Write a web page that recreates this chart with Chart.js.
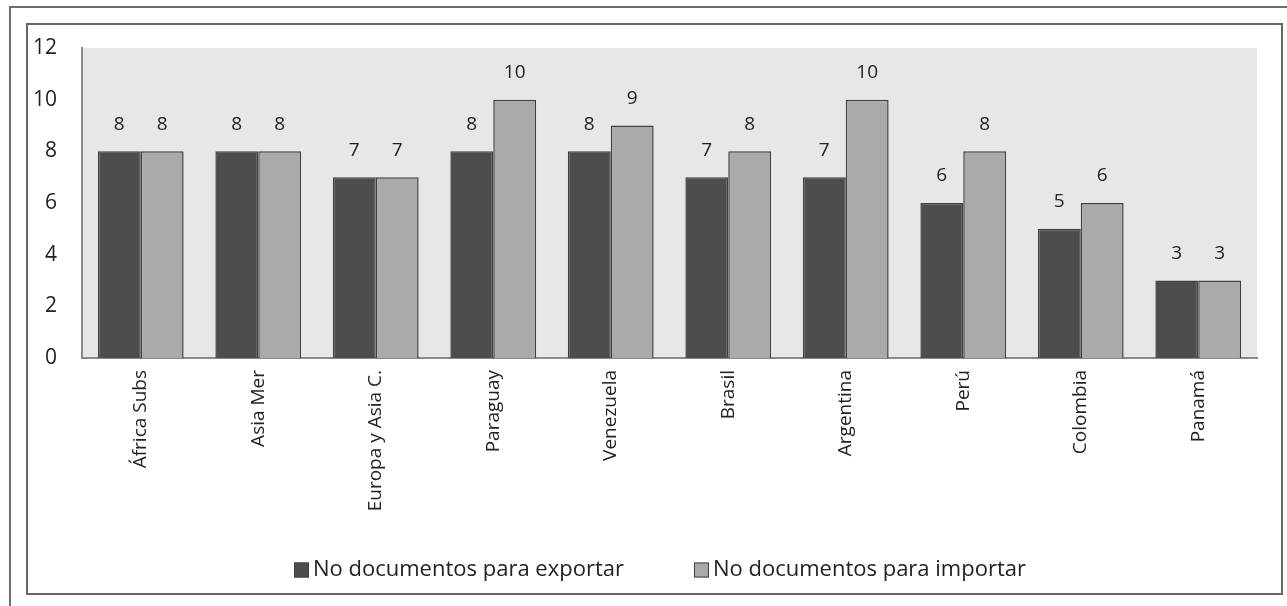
<!DOCTYPE html>
<html>
<head>
<meta charset="utf-8">
<script src="https://cdn.jsdelivr.net/npm/chart.js@4"></script>
<style>
    body { margin: 0; background: #fff; overflow: hidden; width: 1287px; height: 606px; position: relative; }
    #marcoExterno { position: absolute; left: 9px; top: 6px; width: 1300px; height: 640px; border: 2px solid #6e6e6e; }
    #marco { position: absolute; left: 26px; top: 23px; width: 1257px; height: 572px; box-sizing: border-box; border: 2px solid #666; background: #fff; }
    #caja { position: relative; width: 1253px; height: 568px; }
</style>
</head>
<body>
<div id="marcoExterno"></div>
<div id="marco"><div id="caja"><canvas id="myChart"></canvas></div></div>
<script>
const paises = ['África Subs', 'Asia Mer', 'Europa y Asia C.', 'Paraguay', 'Venezuela', 'Brasil', 'Argentina', 'Perú', 'Colombia', 'Panamá'];
const docsExportar = [8, 8, 7, 8, 8, 7, 7, 6, 5, 3];
const docsImportar = [8, 8, 7, 10, 9, 8, 10, 8, 6, 3];
const ticksY = [0, 2, 4, 6, 8, 10, 12];

const fuente = '"Open Sans", sans-serif';

// fondo gris del area de trazado
const fondoArea = {
    id: 'fondoArea',
    beforeDraw(chart) {
        const { ctx, chartArea: a } = chart;
        ctx.save();
        ctx.fillStyle = '#e7e7e7';
        ctx.fillRect(a.left, a.top, a.right - a.left, a.bottom - a.top);
        ctx.restore();
    }
};

// etiquetas de valor encima de cada barra
const etiquetas = {
    id: 'etiquetas',
    afterDatasetsDraw(chart) {
        const ctx = chart.ctx;
        ctx.save();
        ctx.font = '19px ' + fuente;
        ctx.fillStyle = '#222';
        ctx.textAlign = 'center';
        ctx.textBaseline = 'middle';
        chart.data.datasets.forEach((ds, i) => {
            chart.getDatasetMeta(i).data.forEach((bar, j) => {
                ctx.fillText(ds.data[j], bar.x, bar.y - 27);
            });
        });
        ctx.restore();
    }
};

// leyenda propia (cuadro pegado al texto, hueco grande entre series)
const leyenda = {
    id: 'leyenda',
    afterDraw(chart) {
        const ctx = chart.ctx;
        ctx.save();
        ctx.font = '22px ' + fuente;
        ctx.textBaseline = 'middle';
        const items = chart.data.datasets.map(ds => ({
            texto: ds.label,
            color: ds.backgroundColor,
            ancho: 15 + 4 + ctx.measureText(ds.label).width
        }));
        const hueco = 70;
        const total = items.reduce((s, it) => s + it.ancho, 0) + hueco * (items.length - 1);
        let x = Math.round(chart.width / 2 + 5 - total / 2);
        const y = chart.height - 23;
        items.forEach(it => {
            ctx.fillStyle = it.color;
            ctx.fillRect(x, y - 7.5, 15, 15);
            ctx.strokeStyle = '#404040';
            ctx.lineWidth = 1;
            ctx.strokeRect(x + 0.5, y - 7, 14, 14);
            ctx.fillStyle = '#222';
            ctx.fillText(it.texto, x + 19, y);
            x += it.ancho + hueco;
        });
        ctx.restore();
    }
};

const ctx = document.getElementById('myChart').getContext('2d');

new Chart(ctx, {
    type: 'bar',
    data: {
        labels: paises,
        datasets: [
            { label: 'No documentos para exportar', data: docsExportar, backgroundColor: '#4d4d4d', borderColor: '#404040', borderWidth: 1.5 },
            { label: 'No documentos para importar', data: docsImportar, backgroundColor: '#aaaaaa', borderColor: '#404040', borderWidth: 1.5 }
        ]
    },
    options: {
        responsive: true,
        maintainAspectRatio: false,
        animation: false,
        categoryPercentage: 0.73,
        barPercentage: 1.0,
        layout: { padding: { top: 23, right: 24, left: 0, bottom: 65 } },
        plugins: {
            tooltip: { enabled: false },
            legend: { display: false }
        },
        scales: {
            x: {
                grid: { display: false },
                border: { display: true, color: '#8a8a8a', width: 2 },
                ticks: {
                    minRotation: 90,
                    maxRotation: 90,
                    padding: 4,
                    color: '#222',
                    font: { family: fuente, size: 19 }
                },
                afterFit: scale => { scale.height = 170; }
            },
            y: {
                min: 0,
                max: 12,
                grid: { display: false },
                border: { display: true, color: '#8a8a8a', width: 2 },
                afterBuildTicks: scale => { scale.ticks = ticksY.map(v => ({ value: v })); },
                ticks: {
                    padding: 17,
                    color: '#222',
                    font: { family: fuente, size: 21 }
                },
                afterFit: scale => {
                    scale.width = 54;
                    scale.paddingTop = 0;
                    scale.paddingBottom = 0;
                }
            }
        }
    },
    plugins: [fondoArea, etiquetas, leyenda]
});
</script>
</body>
</html>
